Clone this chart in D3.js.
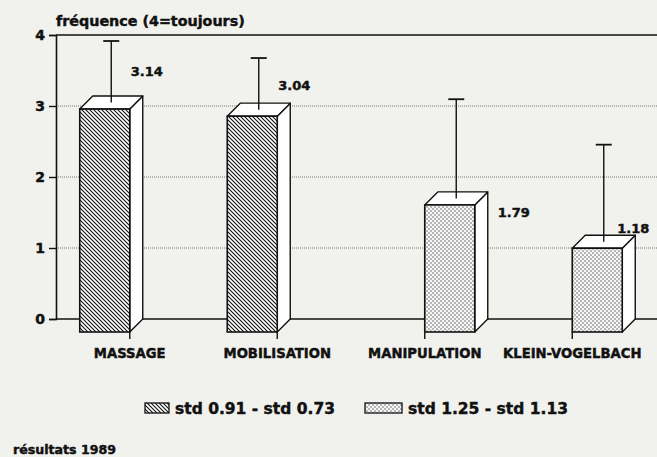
<!DOCTYPE html>
<html>
<head>
<meta charset="utf-8">
<script src="https://cdn.jsdelivr.net/npm/d3@7"></script>
<style>
  body { margin: 0; background: #f1f1ee; }
  svg { display: block; }
  text { font-family: "DejaVu Sans", "Liberation Sans", sans-serif; font-weight: bold; fill: #111; stroke: #111; stroke-width: 0.45px; }
</style>
</head>
<body>
<script>
// data
var categories = ["MASSAGE", "MOBILISATION", "MANIPULATION", "KLEIN-VOGELBACH"];
var means = [3.14, 3.04, 1.79, 1.18];
var errHigh = [4.0, 3.76, 3.18, 2.54];
var seriesOf = [0, 0, 1, 1];
var seriesLabels = ["std 0.91 - std 0.73", "std 1.25 - std 1.13"];
var yTicks = [0, 1, 2, 3, 4];

var width = 657,
    height = 457;

var svg = d3.select("body")
    .append("svg")
    .attr("width", width)
    .attr("height", height);

// patterns
var defs = svg.append("defs");
var hatch = defs.append("pattern")
    .attr("id", "hatch")
    .attr("patternUnits", "userSpaceOnUse")
    .attr("width", 4)
    .attr("height", 4);
hatch.append("rect").attr("width", 4).attr("height", 4).attr("fill", "#fff");
hatch.append("path")
    .attr("d", "M-1,-1 L5,5 M-1,3 L1,5 M3,-1 L5,1")
    .attr("stroke", "#111")
    .attr("stroke-width", 1.1);

var dots = defs.append("pattern")
    .attr("id", "dots")
    .attr("patternUnits", "userSpaceOnUse")
    .attr("width", 4)
    .attr("height", 4);
dots.append("rect").attr("width", 4).attr("height", 4).attr("fill", "#f6f6f6");
dots.append("circle").attr("cx", 1).attr("cy", 1).attr("r", 0.7).attr("fill", "#444");
dots.append("circle").attr("cx", 3).attr("cy", 3).attr("r", 0.7).attr("fill", "#444");

var fills = ["url(#hatch)", "url(#dots)"];

var x = d3.scaleBand()
    .domain(categories)
    .range([56, 646]);

var y = d3.scaleLinear()
    .domain([0, 4])
    .range([319, 35]);

var barW = 50,
    depthX = 13,
    depthY = 13;

// grid lines (dotted) at 1..3
svg.append("g")
    .selectAll("line")
    .data(yTicks.filter(function(d) { return d > 0 && d < 4; }))
    .enter().append("line")
    .attr("x1", 56)
    .attr("x2", width)
    .attr("y1", function(d) { return y(d); })
    .attr("y2", function(d) { return y(d); })
    .attr("stroke", "#777")
    .attr("stroke-width", 1)
    .attr("stroke-dasharray", "1,1");

// top frame line and baseline
svg.append("line")
    .attr("x1", 56).attr("x2", width)
    .attr("y1", y(4)).attr("y2", y(4))
    .attr("stroke", "#111").attr("stroke-width", 1.6);
svg.append("line")
    .attr("x1", 56).attr("x2", width)
    .attr("y1", y(0)).attr("y2", y(0))
    .attr("stroke", "#111").attr("stroke-width", 1.4);

// y axis
var yAxis = svg.append("g")
    .attr("transform", "translate(56,0)")
    .call(d3.axisLeft(y).tickValues(yTicks).tickSize(7).tickFormat(d3.format("d")));
yAxis.select(".domain").attr("stroke", "#111").attr("stroke-width", 1.6);
yAxis.selectAll(".tick line").attr("stroke", "#111").attr("stroke-width", 1.4);
yAxis.selectAll(".tick text")
    .attr("x", -11)
    .attr("font-family", "DejaVu Sans")
    .attr("font-weight", "bold")
    .attr("font-size", 14)
    .attr("fill", "#111");

svg.append("text")
    .attr("x", 56)
    .attr("y", 26)
    .attr("font-size", 14.3)
    .text("fréquence (4=toujours)");

// bars
var bars = svg.append("g").selectAll("g")
    .data(categories)
    .enter().append("g");

function frontX(d, i) {
    var t = x(d) + x.bandwidth() / 2;
    return seriesOf[i] === 0 ? t - barW : t;
}

bars.each(function(d, i) {
    var g = d3.select(this);
    var fx = frontX(d, i);
    var top = y(means[i]) + depthY;
    var bottom = y(0) + depthY;

    // right side face
    g.append("path")
        .attr("d", "M" + (fx + barW) + "," + top +
                   "L" + (fx + barW + depthX) + "," + (top - depthY) +
                   "L" + (fx + barW + depthX) + "," + (bottom - depthY) +
                   "L" + (fx + barW) + "," + bottom + "Z")
        .attr("fill", "#fff")
        .attr("stroke", "#111")
        .attr("stroke-width", 1.4)
        .attr("stroke-linejoin", "round");
    // top face
    g.append("path")
        .attr("d", "M" + fx + "," + top +
                   "L" + (fx + depthX) + "," + (top - depthY) +
                   "L" + (fx + barW + depthX) + "," + (top - depthY) +
                   "L" + (fx + barW) + "," + top + "Z")
        .attr("fill", "#fff")
        .attr("stroke", "#111")
        .attr("stroke-width", 1.4)
        .attr("stroke-linejoin", "round");
    // front face
    g.append("rect")
        .attr("x", fx)
        .attr("y", top)
        .attr("width", barW)
        .attr("height", bottom - top)
        .attr("fill", fills[seriesOf[i]])
        .attr("stroke", "#111")
        .attr("stroke-width", 1.6);

    // error bar from middle of top face
    var ex = fx + barW / 2 + depthX / 2;
    g.append("line")
        .attr("x1", ex).attr("x2", ex)
        .attr("y1", y(means[i]) + depthY / 2)
        .attr("y2", y(errHigh[i]) + 6)
        .attr("stroke", "#111").attr("stroke-width", 1.4);
    g.append("line")
        .attr("x1", ex - 8).attr("x2", ex + 8)
        .attr("y1", y(errHigh[i]) + 6).attr("y2", y(errHigh[i]) + 6)
        .attr("stroke", "#111").attr("stroke-width", 1.8);
});

// value labels, placed as in the original
var labelNudge = [[1, -20], [1, -13], [73, 25], [45, -2]];
bars.append("text")
    .attr("x", function(d, i) { return x(d) + x.bandwidth() / 2 + labelNudge[i][0]; })
    .attr("y", function(d, i) { return y(means[i]) + labelNudge[i][1]; })
    .attr("font-size", 13)
    .text(function(d, i) { return means[i].toFixed(2); });

// x axis ticks and labels
var xAxis = svg.append("g")
    .attr("transform", "translate(0," + (y(0) + depthY) + ")")
    .call(d3.axisBottom(x).tickSize(7).tickPadding(10));
xAxis.select(".domain").remove();
xAxis.selectAll(".tick line").attr("stroke", "#111").attr("stroke-width", 1.4);
xAxis.selectAll(".tick text")
    .attr("font-family", "DejaVu Sans")
    .attr("font-weight", "bold")
    .attr("font-size", 13.2)
    .attr("fill", "#111");

// legend
var legendX = [145, 365],
    legendW = [24, 37];
var legend = svg.append("g").selectAll("g")
    .data(seriesLabels)
    .enter().append("g");
legend.append("rect")
    .attr("x", function(d, i) { return legendX[i]; })
    .attr("y", 403)
    .attr("width", function(d, i) { return legendW[i]; })
    .attr("height", 10)
    .attr("fill", function(d, i) { return fills[i]; })
    .attr("stroke", "#111")
    .attr("stroke-width", 1.3);
legend.append("text")
    .attr("x", function(d, i) { return legendX[i] + legendW[i] + 6; })
    .attr("y", 414)
    .attr("font-size", 15.5)
    .text(function(d) { return d; });

svg.append("text")
    .attr("x", 13)
    .attr("y", 454)
    .attr("font-size", 12.6)
    .text("résultats 1989");
</script>
</body>
</html>
